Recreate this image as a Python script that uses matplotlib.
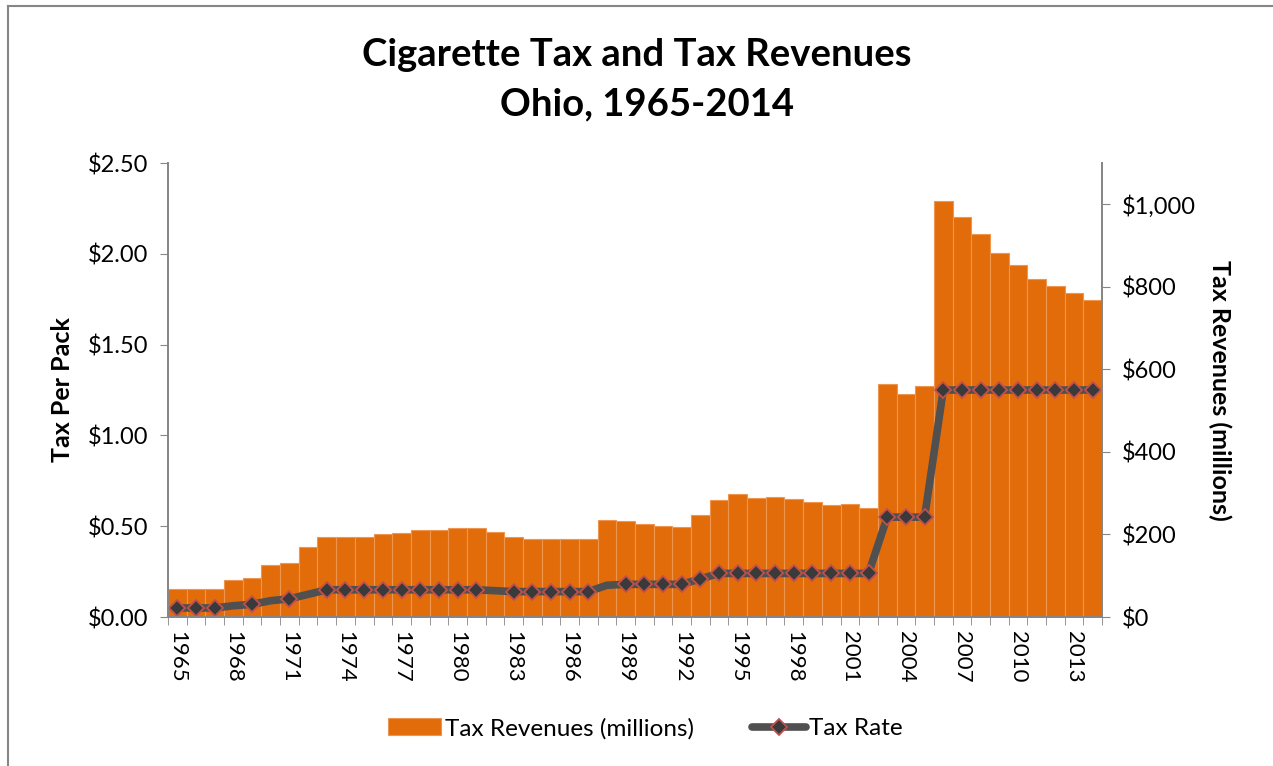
import matplotlib.pyplot as plt
import numpy as np
from matplotlib.lines import Line2D
from matplotlib.ticker import FuncFormatter

plt.rcParams['font.family'] = ['Lato', 'DejaVu Sans']

years = list(range(1965, 2015))

# cigarette tax revenues, millions of dollars
revenue = [67, 69, 69, 89, 94, 125, 132, 169, 193, 195,
           195, 200, 203, 210, 210, 215, 215, 207, 195, 190,
           190, 188, 188, 234, 232, 225, 220, 218, 247, 283,
           298, 288, 290, 286, 278, 271, 273, 264, 564, 540,
           559, 1009, 970, 927, 883, 854, 818, 803, 786, 769]

# state tax per pack, dollars
tax_rate = [0.05, 0.05, 0.05, 0.062, 0.07, 0.09, 0.10, 0.125, 0.15, 0.15,
            0.15, 0.15, 0.15, 0.15, 0.15, 0.15, 0.15, 0.145, 0.14, 0.14,
            0.14, 0.14, 0.14, 0.175, 0.18, 0.18, 0.18, 0.18, 0.21, 0.24,
            0.24, 0.24, 0.24, 0.24, 0.24, 0.24, 0.24, 0.24, 0.55, 0.55,
            0.55, 1.25, 1.25, 1.25, 1.25, 1.25, 1.25, 1.25, 1.25, 1.25]

# years where the rate changed mid-year (drawn without a marker)
no_marker_years = [1968, 1970, 1972, 1982, 1988]

orange = '#E36C0A'
grey = '#868686'

x = np.arange(len(years))
fig = plt.figure(figsize=(12.73, 7.66), dpi=100)
ax = fig.add_axes([0.132, 0.1945, 0.7337, 0.5927])
ax2 = ax.twinx()

# revenue bars on the right-hand scale
bars = ax.bar(x, revenue, width=1.0, color=orange, edgecolor='#EE9550',
              linewidth=0.8, label='Tax Revenues (millions)')
ax.set_ylim(0, 1100)
ax.set_xlim(-0.5, len(years) - 0.5)
ax.yaxis.tick_right()
ax.yaxis.set_label_position('right')
ax.set_yticks(range(0, 1001, 200))
ax.yaxis.set_major_formatter(FuncFormatter(lambda v, p: '${:,.0f}'.format(v)))
ax.set_ylabel('Tax Revenues (millions)', fontsize=18, fontweight='bold',
              rotation=270, labelpad=26)

# tax rate line on the left-hand scale, drawn above the bars
mask = [y not in no_marker_years for y in years]
line, = ax2.plot(x, tax_rate, color='#505050', linewidth=5.5,
                 marker='D', markersize=8, markerfacecolor='#3a3a3a',
                 markeredgecolor='#C0504D', markeredgewidth=1.3,
                 markevery=mask, solid_capstyle='round', label='Tax Rate')
ax2.set_ylim(0, 2.5)
ax2.yaxis.tick_left()
ax2.yaxis.set_label_position('left')
ax2.set_yticks(np.arange(0, 2.51, 0.5))
ax2.yaxis.set_major_formatter(FuncFormatter(lambda v, p: '${:.2f}'.format(v)))
ax2.set_ylabel('Tax Per Pack', fontsize=18, fontweight='bold', labelpad=10)

# category ticks between bars, labels every third year
ax.set_xticks(x[::3])
ax.set_xticklabels([str(y) for y in years[::3]], rotation=-90, fontsize=16)
ax.set_xticks(np.arange(-0.5, len(years)), minor=True)
ax.tick_params(axis='x', which='major', length=0, pad=10)
ax.tick_params(axis='x', which='minor', length=6, color=grey)
ax.tick_params(axis='y', length=6, color=grey, labelsize=17, pad=8)
ax2.tick_params(axis='y', length=6, color=grey, labelsize=17, pad=8)

for a in (ax, ax2):
    a.spines['top'].set_visible(False)
    for s in ('left', 'right', 'bottom'):
        a.spines[s].set_color(grey)
        a.spines[s].set_linewidth(1.3)

fig.text(0.5, 0.928, 'Cigarette Tax and Tax Revenues', ha='center',
         va='center', fontsize=27.5, fontweight='bold')
fig.text(0.508, 0.863, 'Ohio, 1965-2014', ha='center', va='center',
         fontsize=27.5, fontweight='bold')

fig.legend(handles=[bars, line], loc='center', bbox_to_anchor=(0.507, 0.049),
           ncol=2, frameon=False, fontsize=17.5, handlelength=2.2,
           columnspacing=2.4, handletextpad=0.15)

# chart frame
fig.add_artist(Line2D([8 / 1273, 1], [1 - 6 / 766, 1 - 6 / 766],
                      transform=fig.transFigure, color=grey, linewidth=1.5))
fig.add_artist(Line2D([8 / 1273, 8 / 1273], [0, 1 - 6 / 766],
                      transform=fig.transFigure, color=grey, linewidth=1.5))

fig.savefig('out.png', dpi=100)
